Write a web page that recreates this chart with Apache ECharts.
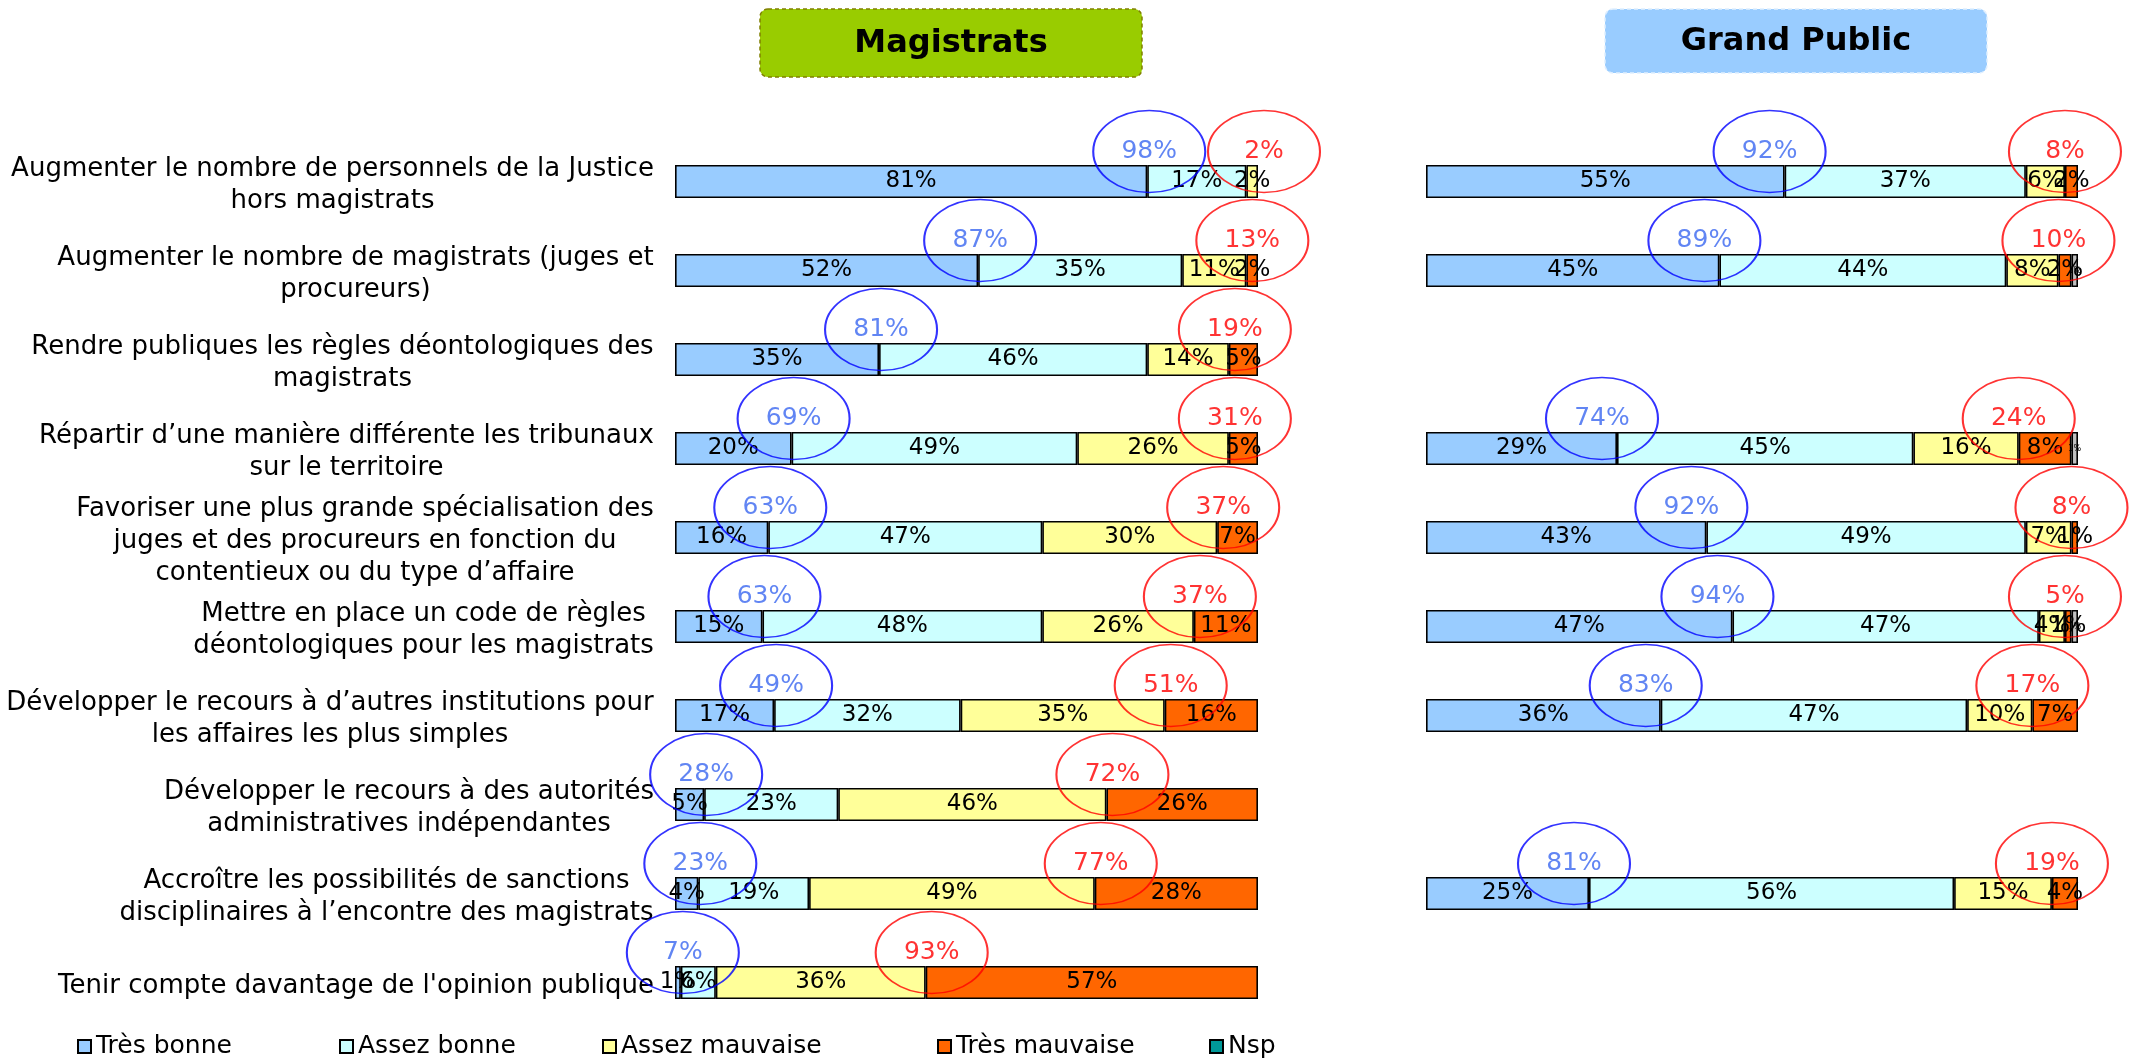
<!DOCTYPE html>
<html>
<head>
<meta charset="utf-8">
<script src="https://cdn.jsdelivr.net/npm/echarts@6/dist/echarts.min.js"></script>
<style>
html, body { margin: 0; padding: 0; background: #fff; }
#main { width: 2130px; height: 1061px; }
</style>
</head>
<body>
<div id="main"></div>
<script>
// questions (rows, top to bottom), line breaks as in the original
var categories = [
    'Augmenter le nombre de personnels de la Justice\nhors magistrats',
    'Augmenter le nombre de magistrats (juges et\nprocureurs)',
    'Rendre publiques les règles déontologiques des\nmagistrats',
    'Répartir d\u2019une manière différente les tribunaux\nsur le territoire',
    'Favoriser une plus grande spécialisation des\njuges et des procureurs en fonction du\ncontentieux ou du type d\u2019affaire',
    'Mettre en place un code de règles\ndéontologiques pour les magistrats',
    'Développer le recours à d\u2019autres institutions pour\nles affaires les plus simples',
    'Développer le recours à des autorités\nadministratives indépendantes',
    'Accroître les possibilités de sanctions\ndisciplinaires à l\u2019encontre des magistrats',
    'Tenir compte davantage de l\'opinion publique'
];
var seriesNames = ['Très bonne', 'Assez bonne', 'Assez mauvaise', 'Très mauvaise', 'Nsp'];

// Magistrats
var magTresBonne      = [81, 52, 35, 20, 16, 15, 17, 5, 4, 1];
var magAssezBonne     = [17, 35, 46, 49, 47, 48, 32, 23, 19, 6];
var magAssezMauvaise  = [2, 11, 14, 26, 30, 26, 35, 46, 49, 36];
var magTresMauvaise   = [0, 2, 5, 5, 7, 11, 16, 26, 28, 57];
var magNsp            = [0, 0, 0, 0, 0, 0, 0, 0, 0, 0];
var magBonneTotal     = [98, 87, 81, 69, 63, 63, 49, 28, 23, 7];
var magMauvaiseTotal  = [2, 13, 19, 31, 37, 37, 51, 72, 77, 93];

// Grand Public (null = question not asked)
var gpTresBonne       = [55, 45, null, 29, 43, 47, 36, null, 25, null];
var gpAssezBonne      = [37, 44, null, 45, 49, 47, 47, null, 56, null];
var gpAssezMauvaise   = [6, 8, null, 16, 7, 4, 10, null, 15, null];
var gpTresMauvaise    = [2, 2, null, 8, 1, 1, 7, null, 4, null];
var gpNsp             = [0, 1, null, 1, 0, 1, 0, null, 0, null];
var gpBonneTotal      = [92, 89, null, 74, 92, 94, 83, null, 81, null];
var gpMauvaiseTotal   = [8, 10, null, 24, 8, 5, 17, null, 19, null];

var FONT = '"DejaVu Sans", Verdana, sans-serif';
var colors = ['#99ccff', '#ccffff', '#ffff99', '#ff6600', '#c0c0c0'];

var dom = document.getElementById('main');
var myChart = echarts.init(dom);

// centred lines inside a right-aligned block: measure each label's widest line
var ctx = document.createElement('canvas').getContext('2d');
ctx.font = '26px "DejaVu Sans"';
var rich = {};
categories.forEach(function (c, i) {
    var w = 0;
    c.split('\n').forEach(function (l) { w = Math.max(w, ctx.measureText(l).width); });
    rich['r' + i] = { width: Math.ceil(w) + 2, align: 'center', fontSize: 26, lineHeight: 32, fontFamily: FONT, color: '#000' };
});

function rowSum(group, i) {
    return group.reduce(function (a, arr) { return a + (arr[i] || 0); }, 0);
}

function barSeries(group, axis) {
    return group.map(function (vals, k) {
        return {
            name: seriesNames[k],
            type: 'bar',
            stack: 'st' + axis,
            xAxisIndex: axis,
            yAxisIndex: axis,
            barWidth: 33,
            itemStyle: { color: colors[k], borderColor: '#000', borderWidth: 1.6 },
            label: {
                show: true,
                position: 'inside',
                color: '#000',
                fontSize: k === 4 ? 8 : 23,
                fontFamily: FONT,
                formatter: function (p) { return p.data.raw ? p.data.raw + '%' : ''; }
            },
            emphasis: { disabled: true },
            data: vals.map(function (v, i) {
                if (v == null || v === 0) return { value: '-', raw: 0 };
                return { value: v / rowSum(group, i) * 100, raw: v };
            })
        };
    });
}

function circleSeries(group, axis, totals, upTo, stroke, textColor, dx) {
    var data = [];
    totals.forEach(function (t, i) {
        if (t == null) return;
        var x = 0;
        for (var k = 0; k < upTo; k++) x += group[k][i] || 0;
        data.push([x / rowSum(group, i) * 100, i, t]);
    });
    return {
        type: 'scatter',
        xAxisIndex: axis,
        yAxisIndex: axis,
        symbol: 'circle',
        symbolSize: [112, 82],
        symbolOffset: [dx, -30],
        z: 5,
        silent: true,
        itemStyle: { color: 'rgba(0,0,0,0)', borderColor: stroke, borderWidth: 1.8 },
        label: {
            show: true,
            position: 'inside',
            color: textColor,
            fontSize: 25,
            fontFamily: FONT,
            formatter: function (p) { return p.data[2] + '%'; }
        },
        emphasis: { disabled: true },
        data: data
    };
}

var magGroup = [magTresBonne, magAssezBonne, magAssezMauvaise, magTresMauvaise, magNsp];
var gpGroup = [gpTresBonne, gpAssezBonne, gpAssezMauvaise, gpTresMauvaise, gpNsp];

var legendLeft = [77, 339, 602, 937, 1209];
var legends = seriesNames.map(function (n, k) {
    var item = { name: n };
    if (n === 'Nsp') item.itemStyle = { color: '#009999' };
    return {
        left: legendLeft[k],
        top: 1034,
        padding: 0,
        itemWidth: 13,
        itemHeight: 13,
        itemGap: 0,
        icon: 'rect',
        selectedMode: false,
        textStyle: { fontSize: 25, fontFamily: FONT, color: '#000', padding: [0, 0, 0, 0] },
        data: [item]
    };
});

var option = {
    animation: false,
    backgroundColor: '#fff',
    legend: legends,
    grid: [
        { left: 675, top: 137, width: 583, height: 890 },
        { left: 1426, top: 137, width: 652, height: 890 }
    ],
    xAxis: [
        { type: 'value', gridIndex: 0, min: 0, max: 100, show: false },
        { type: 'value', gridIndex: 1, min: 0, max: 100, show: false }
    ],
    yAxis: [
        {
            type: 'category', gridIndex: 0, inverse: true, data: categories,
            axisLine: { show: false }, axisTick: { show: false },
            axisLabel: {
                margin: 20,
                align: 'right',
                padding: [8, 0, 0, 0],
                formatter: function (value, idx) {
                    return value.split('\n').map(function (l) { return '{r' + idx + '|' + l + '}'; }).join('\n');
                },
                rich: rich
            }
        },
        {
            type: 'category', gridIndex: 1, inverse: true, data: categories,
            axisLine: { show: false }, axisTick: { show: false }, axisLabel: { show: false }
        }
    ],
    graphic: [
        { type: 'rect', shape: { x: 760, y: 9, width: 382, height: 68, r: 8 },
          style: { fill: '#99cc00', stroke: '#808000', lineWidth: 1.5, lineDash: [4, 3] } },
        { type: 'text', x: 951, y: 44,
          style: { text: 'Magistrats', font: 'bold 32px "DejaVu Sans"', fill: '#000', align: 'center', verticalAlign: 'middle' } },
        { type: 'rect', shape: { x: 1605, y: 9, width: 382, height: 64, r: 8 },
          style: { fill: '#99ccff', stroke: '#e0efff', lineWidth: 1.5, lineDash: [4, 3] } },
        { type: 'text', x: 1796, y: 42,
          style: { text: 'Grand Public', font: 'bold 32px "DejaVu Sans"', fill: '#000', align: 'center', verticalAlign: 'middle' } }
    ],
    series: []
        .concat(barSeries(magGroup, 0))
        .concat(barSeries(gpGroup, 1))
        .concat([
            circleSeries(magGroup, 0, magBonneTotal, 1, '#0000ff', '#3a66f0', 2),
            circleSeries(magGroup, 0, magMauvaiseTotal, 3, '#ff0000', '#ff0000', 6),
            circleSeries(gpGroup, 1, gpBonneTotal, 1, '#0000ff', '#3a66f0', -15),
            circleSeries(gpGroup, 1, gpMauvaiseTotal, 3, '#ff0000', '#ff0000', 0)
        ])
};

if (option && typeof option === 'object') {
    myChart.setOption(option);
}
</script>
</body>
</html>
